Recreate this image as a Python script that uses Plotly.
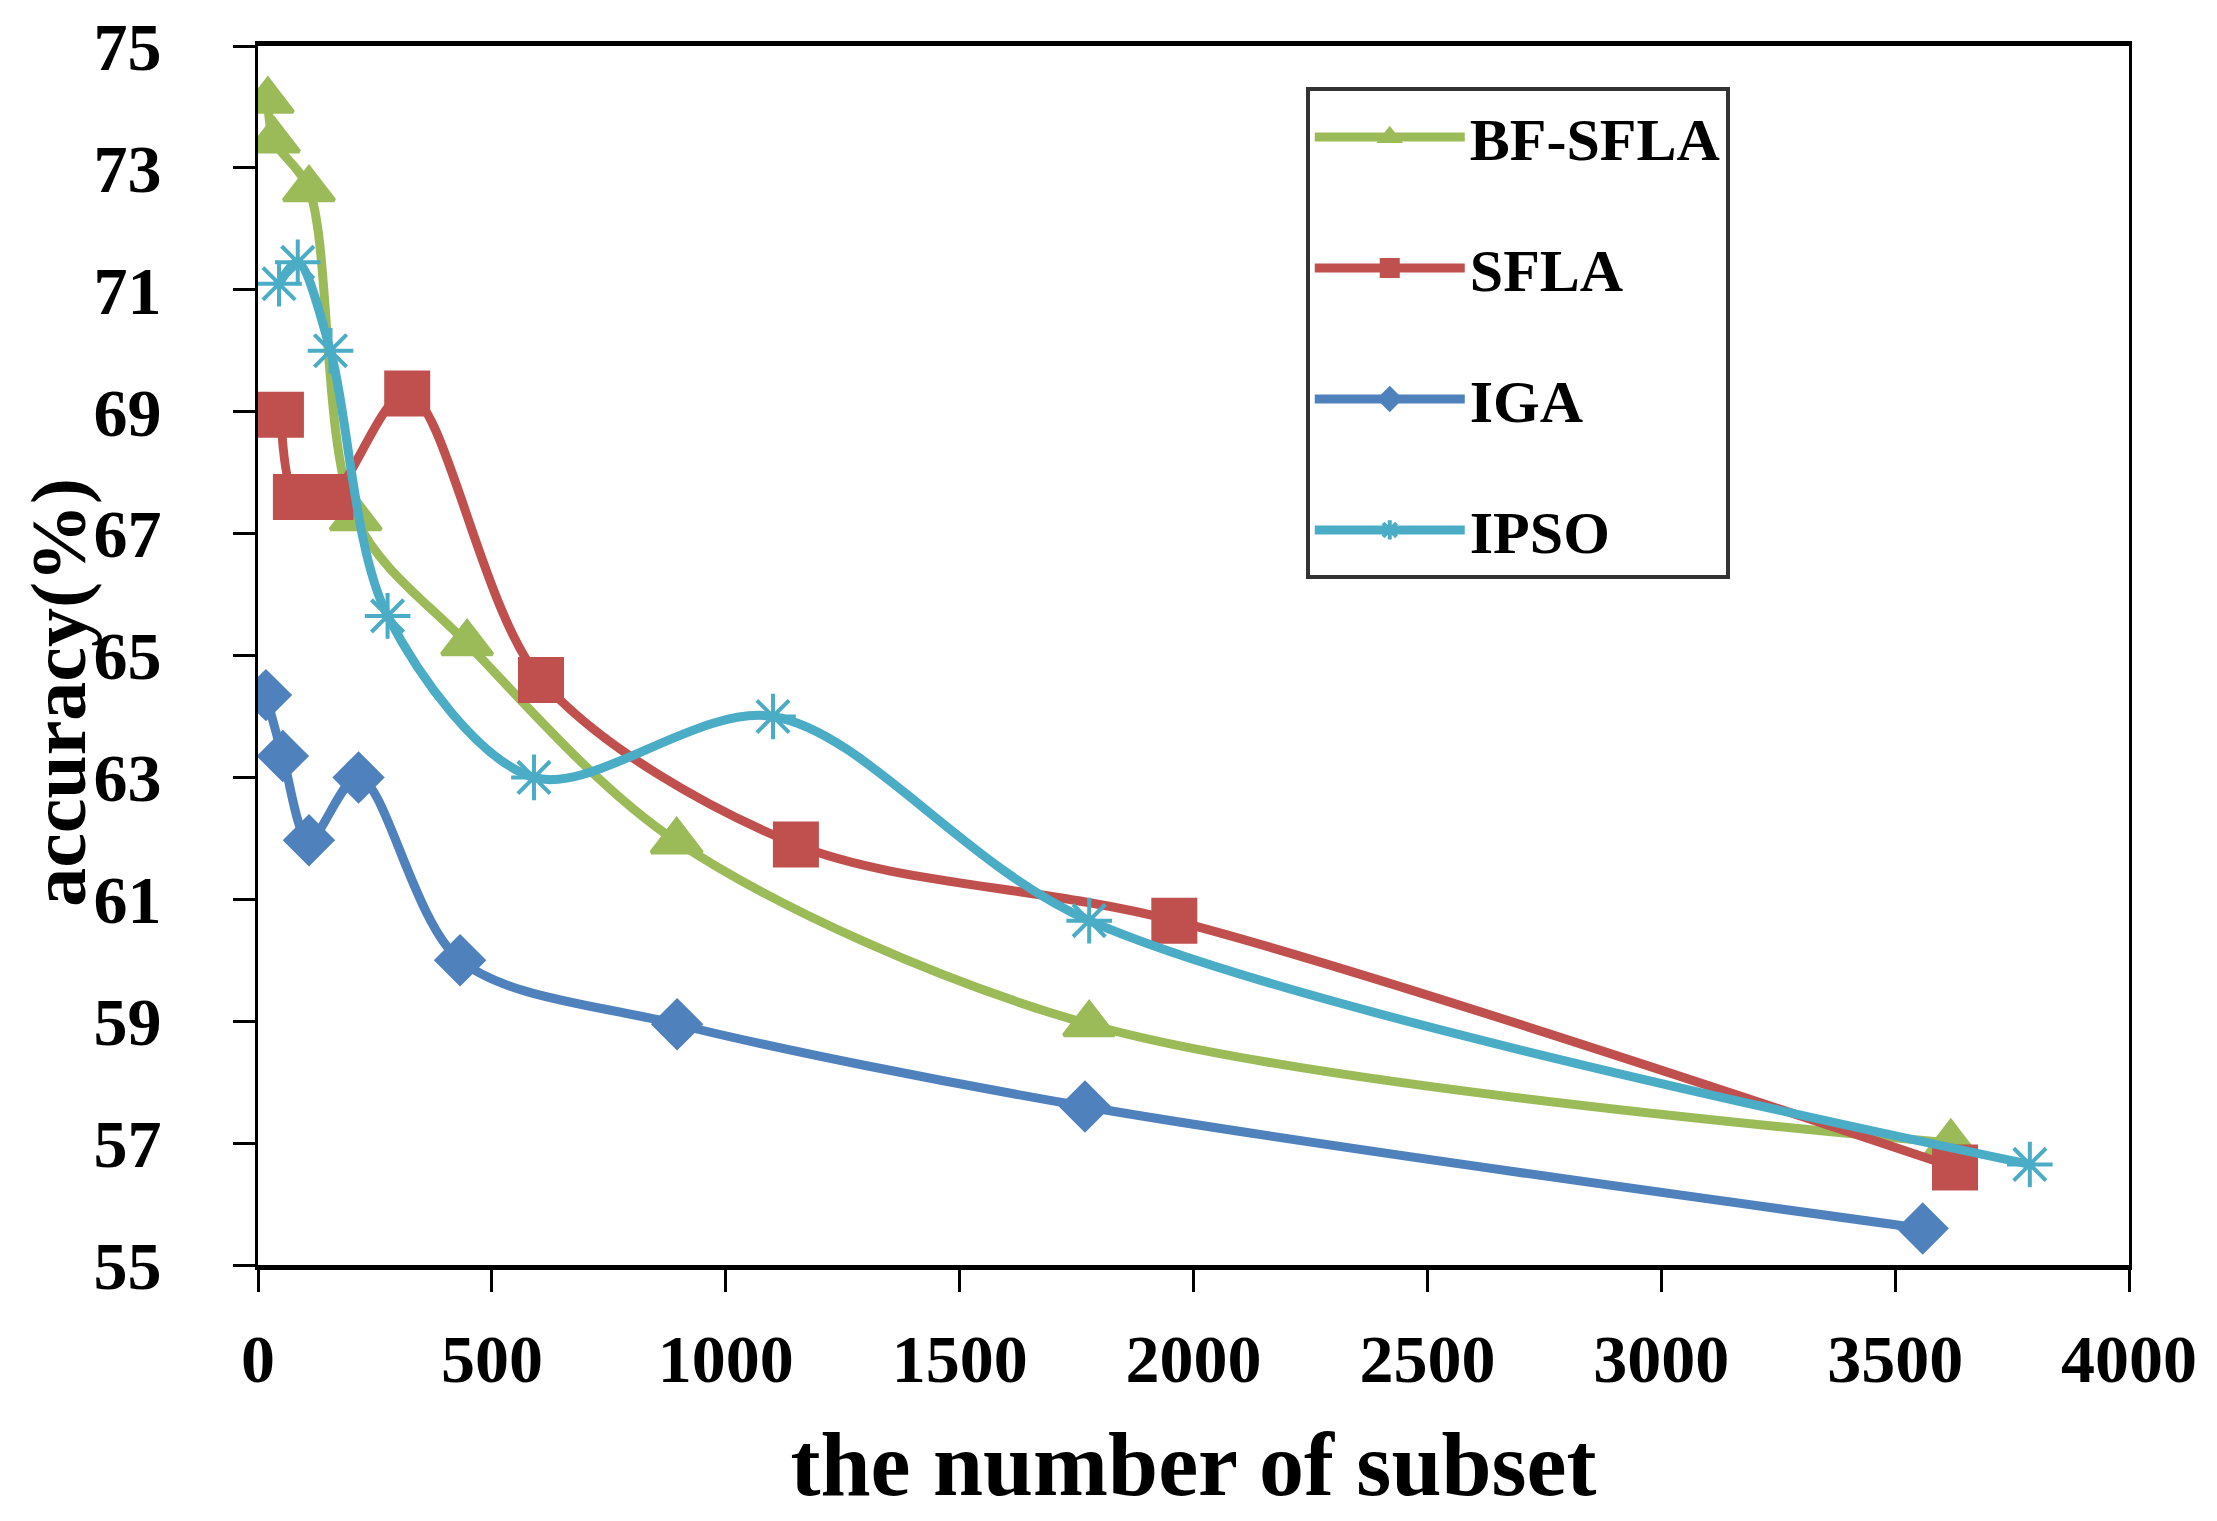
import plotly.graph_objects as go

# values
bf_sfla_x = [21, 34, 109, 209, 447, 895, 1777, 3619]
bf_sfla_y = [74.1, 73.45, 72.65, 67.25, 65.2, 61.95, 58.95, 57.0]

sfla_x = [49, 81, 155, 319, 605, 1150, 1959, 3628]
sfla_y = [68.95, 67.6, 67.6, 69.3, 64.6, 61.9, 60.65, 56.6]

iga_x = [17, 53, 109, 215, 432, 896, 1768, 3559]
iga_y = [64.35, 63.35, 61.97, 63.0, 60.0, 58.95, 57.6, 55.6]

ipso_x = [45, 85, 155, 277, 590, 1101, 1777, 3788]
ipso_y = [71.1, 71.45, 70.0, 65.65, 63.0, 64.0, 60.65, 56.65]

x_ticks = [0, 500, 1000, 1500, 2000, 2500, 3000, 3500, 4000]
y_ticks = [55, 57, 59, 61, 63, 65, 67, 69, 71, 73, 75]

FONT = "Liberation Serif, Times New Roman, serif"

series = [
    ("BF-SFLA", bf_sfla_x, bf_sfla_y, "#9BBB59", "triangle-up", 44),
    ("SFLA", sfla_x, sfla_y, "#C0504D", "square", 42),
    ("IGA", iga_x, iga_y, "#4F81BD", "diamond", 36),
    ("IPSO", ipso_x, ipso_y, "#4BACC6", "asterisk-open", 38),
]

fig = go.Figure()
for name, xs, ys, color, sym, size in series:
    fig.add_trace(go.Scatter(
        x=xs, y=ys, name=name, legendgroup=name,
        mode="lines+markers",
        line=dict(color=color, width=9, shape="spline", smoothing=0.9),
        marker=dict(symbol=sym, size=size, color=color,
                    line=dict(color=color, width=4)),
    ))

fig.update_xaxes(
    range=[0, 4000], tickvals=x_ticks, showgrid=False, zeroline=False,
    showline=True, linecolor="black", linewidth=5, mirror=True,
    ticks="outside", ticklen=22, tickwidth=3, tickcolor="black",
    ticklabelstandoff=8, ticklabeloverflow="allow", automargin=False,
    tickfont=dict(family=FONT, size=68, color="black", weight="bold"),
    title=dict(text="the number of subset", standoff=38,
               font=dict(family=FONT, size=90, color="black", weight="bold")),
)
fig.update_yaxes(
    range=[55, 75], tickvals=y_ticks, showgrid=False, zeroline=False,
    showline=True, linecolor="black", linewidth=3, mirror=True,
    ticks="outside", ticklen=22, tickwidth=3, tickcolor="black",
    ticklabelstandoff=58, ticklabeloverflow="allow", automargin=False,
    tickfont=dict(family=FONT, size=68, color="black", weight="bold"),
)

# y title as an annotation so it sits clear of the tick labels
fig.add_annotation(
    text="accuracy(%)", textangle=-90, showarrow=False,
    xref="paper", yref="paper", x=-0.107, y=0.47,
    xanchor="center", yanchor="middle",
    font=dict(family=FONT, size=78, color="black", weight="bold"),
)

fig.update_layout(
    width=2217, height=1521,
    margin=dict(l=250, r=96, t=38, b=264),
    plot_bgcolor="white", paper_bgcolor="white",
    legend=dict(
        x=0.56, y=0.966, xanchor="left", yanchor="top",
        bgcolor="white", bordercolor="#333333", borderwidth=4,
        font=dict(family=FONT, size=60, color="black", weight="bold"),
        tracegroupgap=50, itemwidth=150, itemsizing="trace",
    ),
)

fig.write_html("out.html")
